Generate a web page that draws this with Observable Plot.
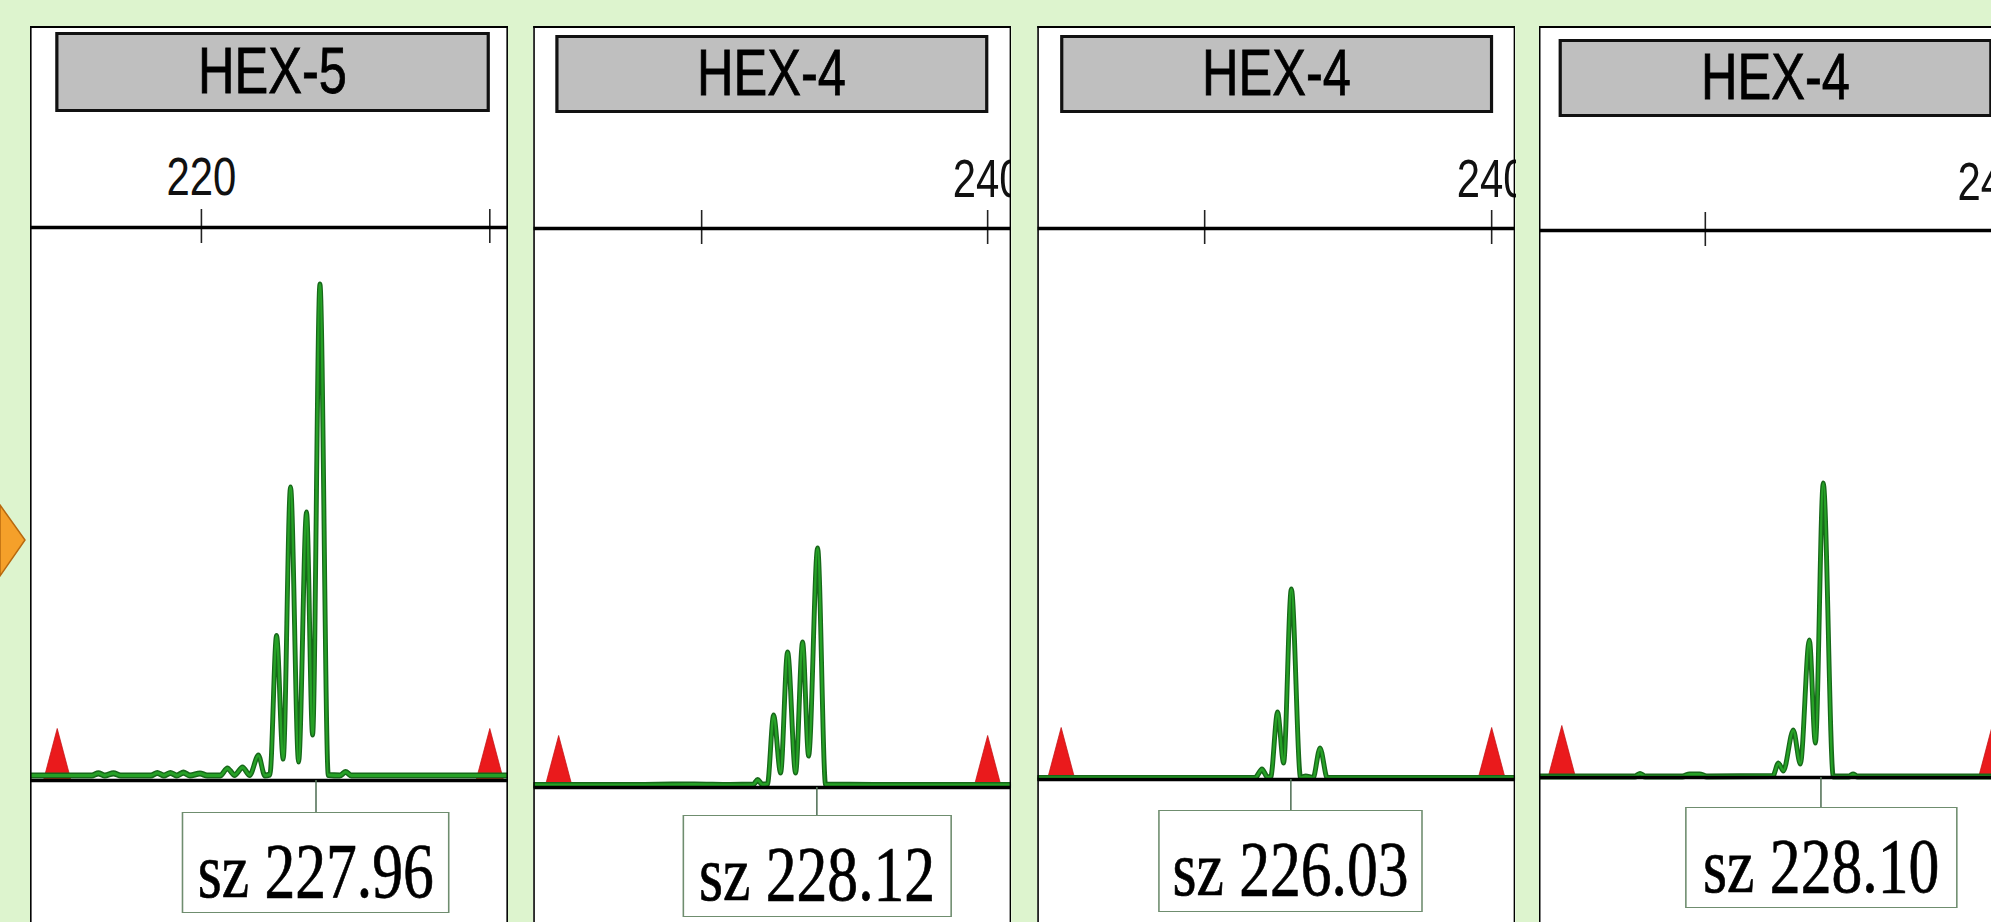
<!DOCTYPE html>
<html><head><meta charset="utf-8">
<script src="https://cdn.jsdelivr.net/npm/d3@7"></script>
<script src="https://cdn.jsdelivr.net/npm/@observablehq/plot@0.6"></script>
<style>
html,body{margin:0;padding:0;width:1991px;height:922px;overflow:hidden;background:#ddf4ce;}
#root{position:absolute;left:0;top:0;width:2700px;height:922px;transform-origin:0 0;}
.panel{position:absolute;background:#fff;overflow:hidden;}
.panel svg{display:block;overflow:hidden;max-width:none;}
.pborder{position:absolute;left:0;top:0;right:0;bottom:0;box-sizing:border-box;border-style:solid;border-color:#000;pointer-events:none;}
.hdr{position:absolute;box-sizing:border-box;background:#bfbfbf;border-style:solid;border-color:#111;font-family:"Liberation Sans",Arial,sans-serif;color:#000;text-align:center;white-space:nowrap;-webkit-text-stroke:0.8px #000;}
.conn{position:absolute;background:#55735a;}
.sz{position:absolute;box-sizing:border-box;background:#fff;border-style:solid;border-color:#6f8d6f;font-family:"Liberation Serif","Times New Roman",serif;color:#000;white-space:nowrap;}
.sz span{position:absolute;left:0;right:0;text-align:center;line-height:76px;font-size:78px;-webkit-text-stroke:0.7px #000;}
#arrow{position:absolute;left:0;top:0;}
</style></head><body>
<svg id="arrow" width="40" height="922"><polygon points="0,505 25,540 0,576" fill="#f5a02a" stroke="#b8690f" stroke-width="1.5"/></svg>
<div id="root"></div>
<script>
// ---------- data ----------
const panelNames = ["HEX-5", "HEX-4", "HEX-4", "HEX-4"];
const sizeCalls = [227.96, 228.12, 226.03, 228.10];
const standardPeaks = [210, 240];
const tickValues = [220, 240];
const labeledTicks = [[220], [240], [240], [240]];

// [size (bp), signal (RFU)]
const traceHEX5 = [
  [208.1,50],[212.4,50],[212.85,72],[213.3,50],[213.9,72],[214.4,50],[216.5,50],[216.94,75],[217.4,50],
  [217.85,75],[218.3,50],[218.75,78],[219.2,50],[219.9,70],[220.4,50],[221.3,50],[221.8,120],[222.3,55],
  [222.85,130],[223.35,55],[223.95,250],[224.4,50],[224.75,60],[225.21,1445],[225.67,220],[226.18,2930],
  [226.74,190],[227.29,2680],[227.71,460],[228.22,4960],[228.8,55],[229.6,50],[230.0,85],[230.4,50],[241.4,50]
];
const traceHEX4a = [
  [208.2,25],[216,25],[219.5,30],[222,25],[223.6,28],[223.92,75],[224.25,28],[224.6,35],[225.03,720],
  [225.52,150],[226.01,1350],[226.57,150],[227.06,1450],[227.48,320],[228.11,2390],[228.67,28],[232,25],[241.6,25]
];
const traceHEX4b = [
  [208.3,15],[223.5,15],[223.99,100],[224.4,20],[224.6,25],[225.08,670],[225.5,170],[226.04,1900],
  [226.69,15],[227.04,30],[227.55,15],[228.04,310],[228.55,15],[241.7,15]
];
const traceHEX4c = [
  [208.4,10],[215.1,10],[215.45,35],[215.8,10],[218.4,10],[218.9,30],[219.6,30],[220.1,10],[224.7,15],
  [225.09,140],[225.44,70],[226.13,470],[226.62,140],[227.25,1370],[227.67,350],[228.22,2940],[228.92,10],
  [230.0,10],[230.3,30],[230.6,10],[241.7,10]
];
const traces = [traceHEX5, traceHEX4a, traceHEX4b, traceHEX4c];

// ---------- layout (final pixels) ----------
const K = 0.79;            // horizontal compression of the original picture
const PANEL_W = 478;
const layout = [
  {left:30,   top:26, x220:201,  ppb:14.42, axisY:227, labelGap:32, bottomY:780, hdr:[55,32,490,112],    sz:[812,913,268]},
  {left:533,  top:26, x220:701,  ppb:14.30, axisY:228, labelGap:31, bottomY:787, hdr:[555,35,988,113],   sz:[815,917,269]},
  {left:1037, top:26, x220:1204, ppb:14.35, axisY:228, labelGap:31, bottomY:779, hdr:[1060,35,1493,113], sz:[810,912,265]},
  {left:1539, top:26, x220:1705, ppb:14.35, axisY:230, labelGap:30, bottomY:777, hdr:[1559,39,1992,117], sz:[807,908,273]}
];

const root = document.getElementById("root");
root.style.transform = `scaleX(${K})`;

const tallTriangle = {draw(ctx) { ctx.moveTo(-17.5, 0); ctx.lineTo(0, -52); ctx.lineTo(17.5, 0); ctx.closePath(); }};

layout.forEach((L, i) => {
  const W = PANEL_W / K, H = 922 - L.top + 20;
  const x0 = 220 - (L.x220 - L.left) / L.ppb;
  const x1 = x0 + PANEL_W / L.ppb;
  const axisRel = L.axisY - L.top, baseRel = L.bottomY - L.top;
  const frameH = baseRel - axisRel;
  const data = traces[i].map(([bp, rfu]) => ({bp, rfu}));

  const panel = document.createElement("div");
  panel.className = "panel";
  Object.assign(panel.style, {left: L.left / K + "px", top: L.top + "px", width: W + "px", height: H + "px"});

  const plot = Plot.plot({
    width: W, height: H,
    marginLeft: 0, marginRight: 0, marginTop: axisRel, marginBottom: H - baseRel,
    x: {domain: [x0, x1], range: [0, W]},
    y: {domain: [0, 5000], range: [baseRel, baseRel - 500], axis: null},
    style: {background: "white", overflow: "hidden", maxWidth: "none"},
    marks: [
      Plot.tickX(tickValues, {x: d => d, insetTop: -18, insetBottom: frameH - 16, stroke: "#222", strokeWidth: 2}),
      Plot.axisX({ticks: tickValues, anchor: "top", tickSize: 0, tickPadding: L.labelGap, label: null,
        tickFormat: d => labeledTicks[i].includes(d) ? String(d) : "",
        fontSize: 53, fontFamily: "Liberation Sans, Arial, sans-serif", fill: "#111", stroke: "#111", strokeWidth: 0.7}),
      Plot.ruleY([5000 * (frameH / 500)], {stroke: "#000", strokeWidth: 3.5}),
      Plot.dot(standardPeaks, {x: d => d, y: 0, symbol: tallTriangle, r: 10, fill: "#ea1a1c", stroke: "#c21012", strokeWidth: 0.8}),
      Plot.line(data, {x: "bp", y: "rfu", curve: "monotone-x", stroke: "#17681a", strokeWidth: 6.2, strokeLinejoin: "round"}),
      Plot.line(data, {x: "bp", y: "rfu", curve: "monotone-x", stroke: "#26a126", strokeWidth: 3, strokeLinejoin: "round"}),
      Plot.ruleY([0], {stroke: "#000", strokeWidth: 3.5})
    ]
  });
  panel.appendChild(plot);

  // header box
  const [hx1, hy1, hx2, hy2] = L.hdr;
  const hdr = document.createElement("div");
  hdr.className = "hdr";
  const hh = hy2 - hy1;
  Object.assign(hdr.style, {
    left: (hx1 - L.left) / K + "px", top: (hy1 - L.top) + "px",
    width: (hx2 - hx1) / K + "px", height: hh + "px",
    borderWidth: `3.5px ${3.5 / K}px`, fontSize: "64px", lineHeight: (hh - 7) + "px"
  });
  hdr.textContent = panelNames[i];
  panel.appendChild(hdr);

  // size-call annotation
  const xs = plot.scale("x").apply(sizeCalls[i]);
  const [st, sb, sw] = L.sz;
  const conn = document.createElement("div");
  conn.className = "conn";
  Object.assign(conn.style, {left: (xs - 0.8 / K) + "px", top: baseRel + "px", width: 1.6 / K + "px", height: (st - L.bottomY) + "px"});
  panel.appendChild(conn);
  const box = document.createElement("div");
  box.className = "sz";
  Object.assign(box.style, {
    left: (xs - sw / K / 2) + "px", top: (st - L.top) + "px",
    width: sw / K + "px", height: (sb - st) + "px", borderWidth: `1.6px ${1.6 / K}px`
  });
  const span = document.createElement("span");
  span.style.top = (86 - 64.5 - 1.6) + "px";
  span.textContent = "sz " + sizeCalls[i].toFixed(2);
  box.appendChild(span);
  panel.appendChild(box);

  const border = document.createElement("div");
  border.className = "pborder";
  border.style.borderWidth = `2px ${2 / K}px 0 ${2 / K}px`;
  panel.appendChild(border);

  root.appendChild(panel);
});
</script>
</body></html>
